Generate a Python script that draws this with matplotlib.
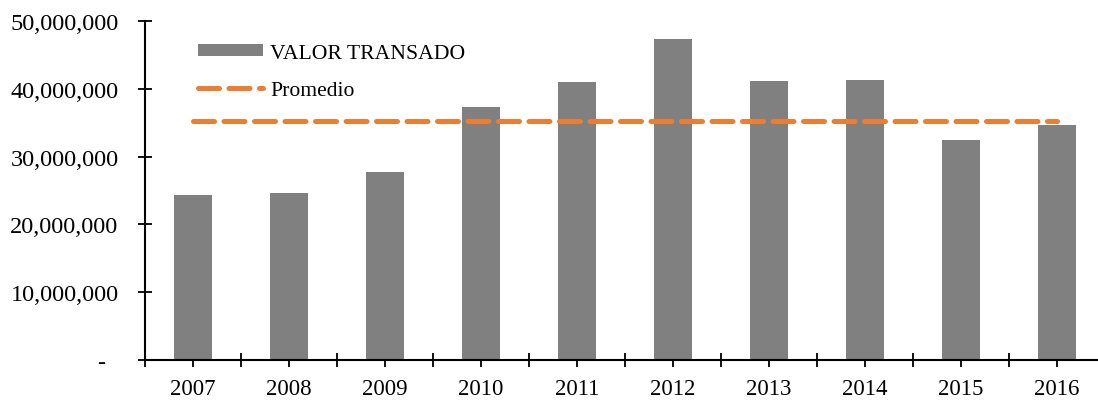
import matplotlib
matplotlib.use("Agg")
import matplotlib.pyplot as plt
from matplotlib.ticker import FuncFormatter, FixedLocator

years = ["2007", "2008", "2009", "2010", "2011", "2012", "2013", "2014", "2015", "2016"]
valor_transado = [24.4e6, 24.7e6, 27.7e6, 37.3e6, 41.0e6, 47.3e6, 41.1e6, 41.3e6, 32.5e6, 34.6e6]
promedio_value = sum(valor_transado) / len(valor_transado)
promedio = [promedio_value] * len(years)

plt.rcParams['font.family'] = ['Liberation Serif', 'DejaVu Serif']

W, H = 1098, 402
fig = plt.figure(figsize=(W / 100, H / 100), dpi=100)
left, right, top, bottom = 145, 1105, 22, 361
ax = fig.add_axes([left / W, 1 - bottom / H, (right - left) / W, (bottom - top) / H])

x = list(range(len(years)))
bars = ax.bar(x, valor_transado, width=0.4, color='#808080', label='VALOR TRANSADO', zorder=2)
line, = ax.plot(x, promedio, color='#ED7D31', linewidth=3.6, linestyle=(0, (4.2, 1.9)),
                dash_capstyle='round', label='Promedio', zorder=3)

ax.set_xlim(-0.5, len(years) - 0.5)
ax.set_ylim(0, 50e6)
ax.set_xticks(x)
ax.set_xticklabels(years)
ax.xaxis.set_minor_locator(FixedLocator([i - 0.5 for i in range(len(years) + 1)]))
ax.set_yticks([0, 10e6, 20e6, 30e6, 40e6, 50e6])
ax.yaxis.set_major_formatter(FuncFormatter(lambda v, p: "-  " if v == 0 else f"{int(v):,}"))

for s in ['top', 'right']:
    ax.spines[s].set_visible(False)
for s in ['left', 'bottom']:
    ax.spines[s].set_linewidth(1.5)
    ax.spines[s].set_color('black')

ax.tick_params(axis='both', which='major', direction='inout', length=10, width=1.3,
               colors='black')
ax.tick_params(axis='x', which='minor', direction='inout', length=10, width=1.3)
ax.tick_params(axis='x', which='major', pad=8, labelsize=16.5)
ax.tick_params(axis='y', which='major', pad=14, labelsize=17.5)

leg = ax.legend([bars, line], ['VALOR TRANSADO', 'Promedio'],
                loc='upper left', bbox_to_anchor=(33 / (right - left), 0.99), frameon=False,
                fontsize=15.6, handlelength=3.0, handleheight=0.5, handletextpad=0.35,
                labelspacing=0.85)

fig.savefig("out.png", dpi=100)
